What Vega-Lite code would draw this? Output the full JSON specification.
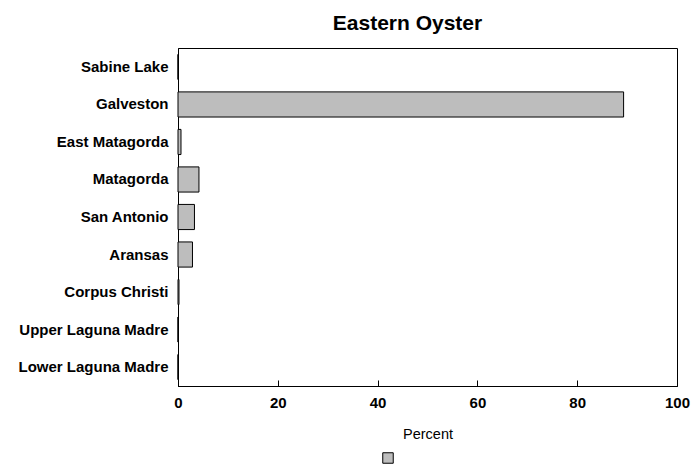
{
  "$schema": "https://vega.github.io/schema/vega-lite/v6.json",
  "autosize": {"type": "none"},
  "padding": {"left": 178, "top": 48, "right": 17, "bottom": 81},
  "width": 499,
  "height": 338,
  "background": "white",
  "title": {
    "text": "Eastern Oyster",
    "font": "Liberation Sans",
    "fontSize": 21,
    "fontWeight": "bold",
    "color": "black",
    "anchor": "middle",
    "dx": -20,
    "offset": 14
  },
  "config": {
    "view": {"stroke": "black", "strokeWidth": 1},
    "axis": {
      "labelFont": "Liberation Sans",
      "titleFont": "Liberation Sans",
      "labelColor": "black",
      "titleColor": "black",
      "domainColor": "black",
      "tickColor": "black",
      "grid": false
    }
  },
  "data": {
    "values": [
      {"estuary": "Sabine Lake", "percent": 0, "series": "Eastern Oyster"},
      {"estuary": "Galveston", "percent": 89.3, "series": "Eastern Oyster"},
      {"estuary": "East Matagorda", "percent": 0.6, "series": "Eastern Oyster"},
      {"estuary": "Matagorda", "percent": 4.2, "series": "Eastern Oyster"},
      {"estuary": "San Antonio", "percent": 3.3, "series": "Eastern Oyster"},
      {"estuary": "Aransas", "percent": 2.9, "series": "Eastern Oyster"},
      {"estuary": "Corpus Christi", "percent": 0.2, "series": "Eastern Oyster"},
      {"estuary": "Upper Laguna Madre", "percent": 0, "series": "Eastern Oyster"},
      {"estuary": "Lower Laguna Madre", "percent": 0, "series": "Eastern Oyster"}
    ]
  },
  "mark": {"type": "bar", "stroke": "black", "strokeWidth": 1, "cornerRadius": 0},
  "encoding": {
    "y": {
      "field": "estuary",
      "type": "nominal",
      "sort": null,
      "scale": {"paddingInner": 0.33, "paddingOuter": 0.17},
      "axis": {
        "title": null,
        "ticks": false,
        "labelFontSize": 15,
        "labelFontWeight": "bold",
        "labelPadding": 10,
        "domain": true
      }
    },
    "x": {
      "field": "percent",
      "type": "quantitative",
      "scale": {"domain": [0, 100], "nice": false},
      "axis": {
        "values": [0, 20, 40, 60, 80, 100],
        "title": "Percent",
        "titleFontSize": 14.5,
        "titleFontWeight": "normal",
        "titlePadding": 17,
        "labelFontSize": 15,
        "labelFontWeight": "bold",
        "labelPadding": 15,
        "tickSize": -6,
        "labelFlush": false
      }
    },
    "fill": {
      "field": "series",
      "type": "nominal",
      "scale": {"range": ["#bdbdbd"]},
      "legend": {
        "orient": "none",
        "legendX": 204,
        "legendY": 404,
        "title": null,
        "labelExpr": "''",
        "symbolType": "square",
        "symbolSize": 110,
        "symbolStrokeColor": "black",
        "symbolStrokeWidth": 1
      }
    }
  }
}
